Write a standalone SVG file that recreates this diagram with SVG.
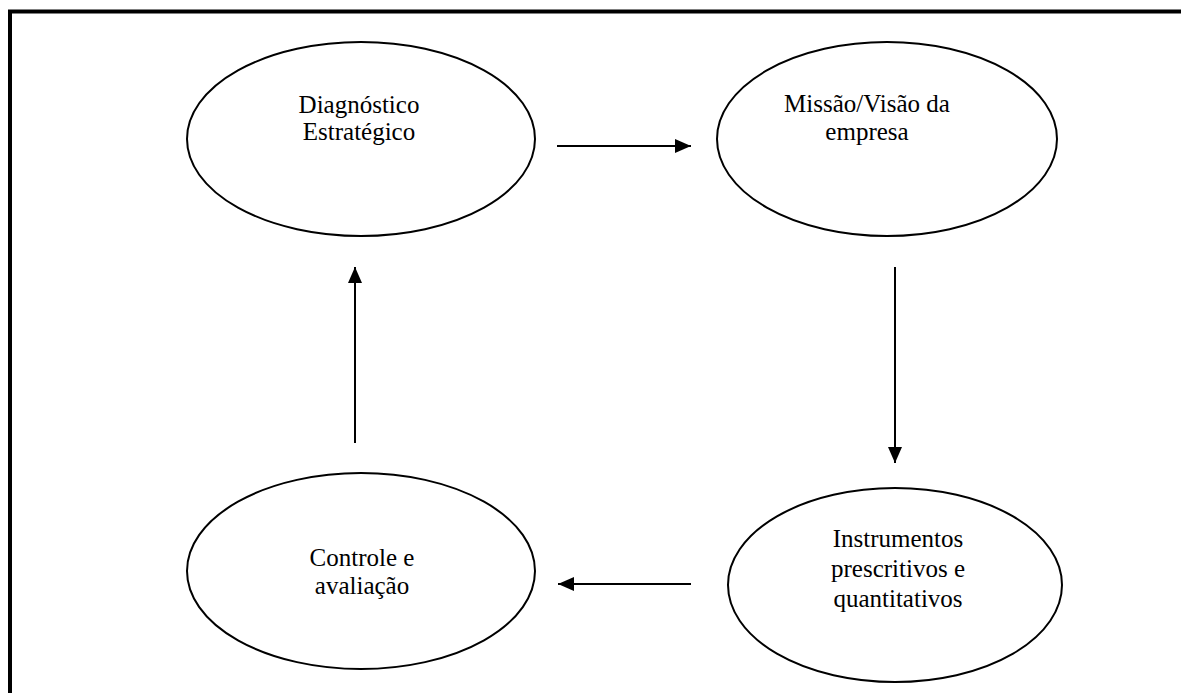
<svg xmlns="http://www.w3.org/2000/svg" width="1181" height="693" viewBox="0 0 1181 693">
  <style>
    .frame { fill: none; stroke: #000; stroke-width: 4; }
    .node ellipse { fill: #fff; stroke: #000; stroke-width: 2; }
    .node text { font-family: "Liberation Serif", "Times New Roman", serif; font-size: 25px; fill: #000; text-anchor: middle; }
    .edge { stroke: #000; stroke-width: 2; fill: none; marker-end: url(#head); }
  </style>
  <defs>
    <marker id="head" viewBox="0 0 16 14" refX="16" refY="7" markerWidth="16" markerHeight="14" markerUnits="userSpaceOnUse" orient="auto">
      <path d="M0,0 L16,7 L0,14 Z" fill="#000"/>
    </marker>
  </defs>
  <rect width="1181" height="693" fill="#fff"/>
  <!-- outer frame: top and left edges only are visible -->
  <path class="frame" d="M10,693 V11.5 H1181"/>

  <g id="diagnostico" class="node">
    <ellipse cx="361" cy="139" rx="174" ry="97"/>
    <text x="359" y="113">Diagnóstico</text>
    <text x="359" y="140">Estratégico</text>
  </g>
  <g id="missao" class="node">
    <ellipse cx="887" cy="139" rx="170" ry="97"/>
    <text x="867" y="112">Missão/Visão da</text>
    <text x="867" y="140">empresa</text>
  </g>
  <g id="instrumentos" class="node">
    <ellipse cx="895" cy="585" rx="167" ry="97"/>
    <text x="898" y="547">Instrumentos</text>
    <text x="898" y="577">prescritivos e</text>
    <text x="898" y="607">quantitativos</text>
  </g>
  <g id="controle" class="node">
    <ellipse cx="361" cy="571" rx="174" ry="98"/>
    <text x="362" y="566">Controle e</text>
    <text x="362" y="594">avaliação</text>
  </g>

  <g id="connectors">
    <line class="edge" x1="557" y1="146" x2="691" y2="146"/>
    <line class="edge" x1="895" y1="267" x2="895" y2="463"/>
    <line class="edge" x1="691" y1="584" x2="558" y2="584"/>
    <line class="edge" x1="355" y1="443" x2="355" y2="267"/>
  </g>
</svg>
